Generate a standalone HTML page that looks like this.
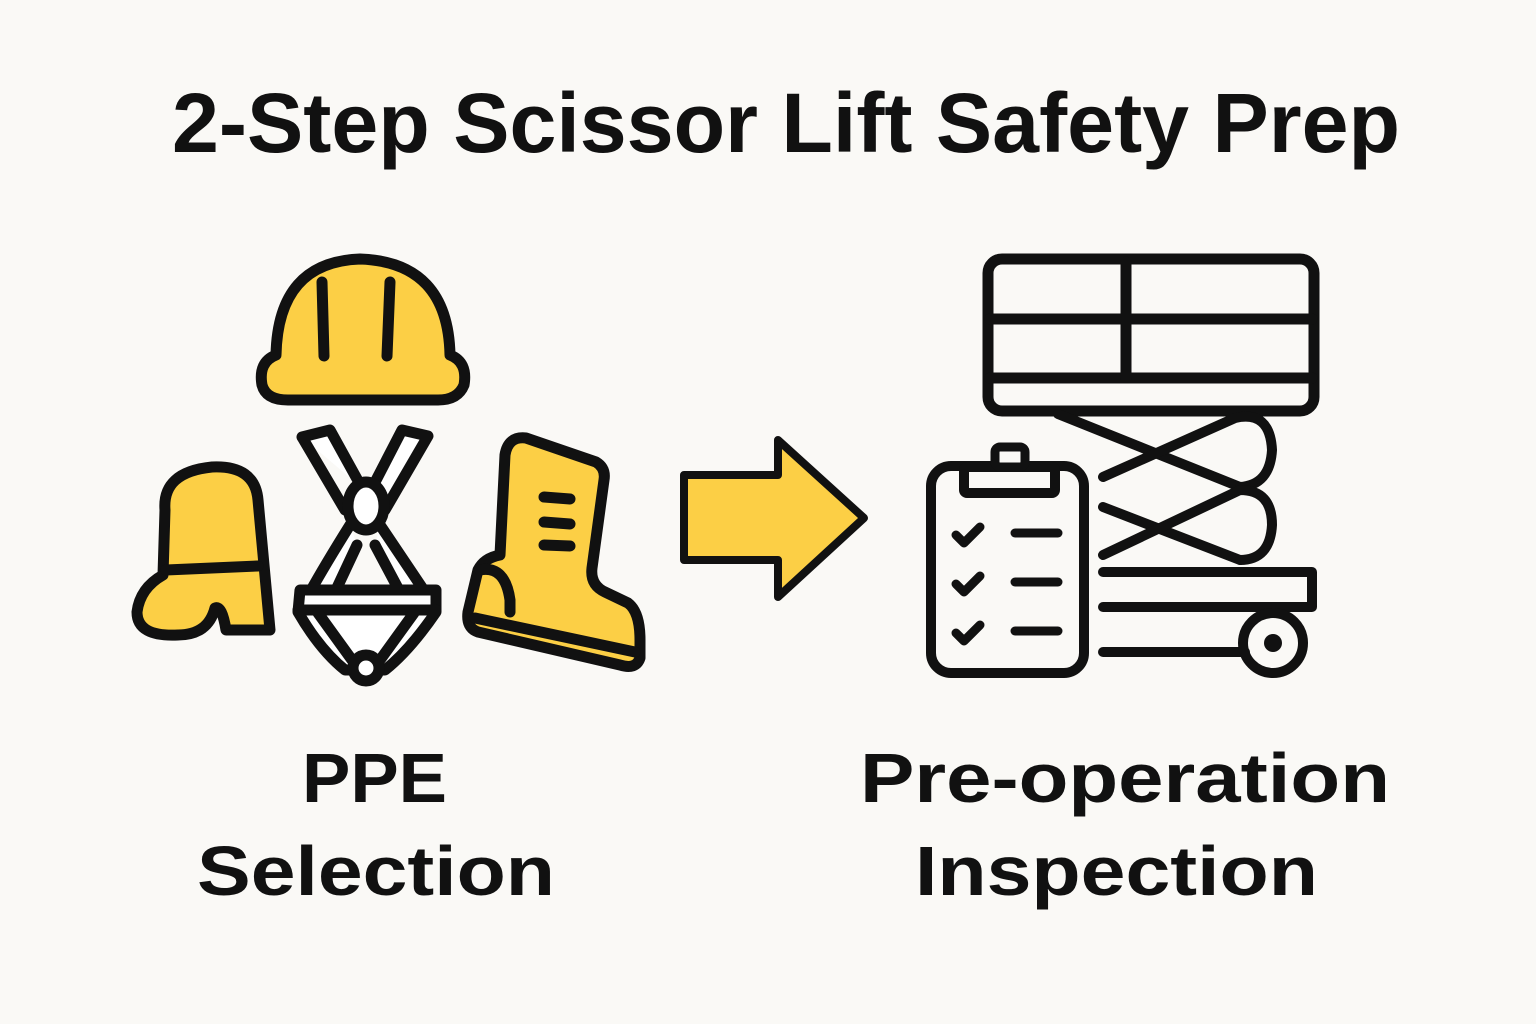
<!DOCTYPE html>
<html><head><meta charset="utf-8"><style>
html,body{margin:0;padding:0;background:#faf9f6;}
svg{display:block}
</style></head><body>
<svg width="1536" height="1024" viewBox="0 0 1536 1024" xmlns="http://www.w3.org/2000/svg">
<rect width="1536" height="1024" fill="#faf9f6"/>
<g font-family="Liberation Sans, Arial, sans-serif" font-weight="bold" fill="#111">
<text x="172" y="152" font-size="84" textLength="1228" lengthAdjust="spacingAndGlyphs">2-Step Scissor Lift Safety Prep</text>
<text x="302" y="802" font-size="70" textLength="145" lengthAdjust="spacingAndGlyphs">PPE</text>
<text x="197" y="895" font-size="70" textLength="358" lengthAdjust="spacingAndGlyphs">Selection</text>
<text x="860" y="802" font-size="70" textLength="530" lengthAdjust="spacingAndGlyphs">Pre-operation</text>
<text x="915" y="895" font-size="70" textLength="403" lengthAdjust="spacingAndGlyphs">Inspection</text>
</g>
<g stroke="#111" stroke-width="11" stroke-linejoin="round" stroke-linecap="round">
<path d="M262,385 Q258,362 276,355 Q278,262 360,259 Q448,262 450,355 Q468,362 464,385 Q458,400 438,400 L288,400 Q266,400 262,385 Z" fill="#fccf45"/>
<line x1="322" y1="282" x2="324" y2="356"/>
<line x1="390" y1="282" x2="387" y2="356"/>
<path d="M165,510 Q162,472 212,467 Q255,465 258,500 L270,630 L226,630 Q222,605 215,608 Q208,635 178,635 Q137,637 137,612 Q140,588 163,575 Z" fill="#fccf45"/>
<line x1="166" y1="570" x2="258" y2="566"/>
<g fill="none">
<path d="M302,437 L330,430 L362,488 M372,488 L402,430 L428,436 L385,510 M345,510 L302,437" fill="#fff"/>
<path d="M350,525 Q325,565 310,592 L335,592 L357,545 M375,545 L400,592 L425,592 L380,525" fill="#fff"/>
<path d="M300,590 L436,590 L436,612 Q410,650 385,670 L345,670 Q320,650 298,612 Z" fill="#fff"/>
<line x1="298" y1="610" x2="436" y2="610"/>
<path d="M318,613 L352,660 M414,613 L380,660"/>
<ellipse cx="366" cy="506" rx="18" ry="24" fill="#fff"/>
<ellipse cx="366" cy="668" rx="13" ry="13" fill="#fff"/>
</g>
<path d="M505,455 Q508,436 526,438 L596,462 Q606,468 604,480 L592,568 Q590,585 605,592 L628,603 Q640,612 640,640 L640,658 Q636,670 620,665 L478,632 Q466,628 468,612 L478,570 Q484,558 500,555 Z" fill="#fccf45"/>
<path d="M480,570 Q505,565 510,600 L510,612" fill="none"/>
<line x1="475" y1="618" x2="635" y2="652"/>
<line x1="544" y1="497" x2="570" y2="499"/>
<line x1="544" y1="522" x2="570" y2="524"/>
<line x1="544" y1="545" x2="570" y2="546"/>
<path d="M684,475 L778,475 L778,440 L864,518 L778,597 L778,560 L684,560 Z" fill="#fccf45" stroke-width="8"/>
<rect x="988" y="259" width="326" height="152" rx="14" fill="none"/>
<line x1="990" y1="319" x2="1312" y2="319"/>
<line x1="990" y1="378" x2="1312" y2="378"/>
<line x1="1126" y1="262" x2="1126" y2="378"/>
<g fill="none" stroke-width="10">
<line x1="1058" y1="414" x2="1240" y2="487"/>
<path d="M1103,477 L1235,418 Q1270,410 1272,450 Q1270,485 1240,487"/>
<path d="M1103,507 L1240,560"/>
<path d="M1103,555 L1240,490 Q1272,490 1272,525 Q1270,560 1240,560"/>
<path d="M1103,572 L1312,572 L1312,607 L1103,607"/>
<line x1="1103" y1="652" x2="1245" y2="652"/>
<circle cx="1273" cy="643" r="30"/>
</g>
<circle cx="1273" cy="643" r="9" fill="#111" stroke="none"/>
<rect x="931" y="466" width="153" height="207" rx="20" fill="#faf9f6" stroke-width="10"/>
<rect x="964" y="467" width="91" height="26" rx="3" fill="#faf9f6" stroke-width="10"/>
<rect x="995" y="447" width="30" height="20" rx="5" fill="#faf9f6" stroke-width="9"/>
<g fill="none" stroke-width="9">
<path d="M956,535 L964,543 L980,527"/>
<path d="M956,584 L964,592 L980,576"/>
<path d="M956,633 L964,641 L980,625"/>
<line x1="1015" y1="533" x2="1058" y2="533"/>
<line x1="1015" y1="582" x2="1058" y2="582"/>
<line x1="1015" y1="631" x2="1058" y2="631"/>
</g>
</g>
</svg>
</body></html>
